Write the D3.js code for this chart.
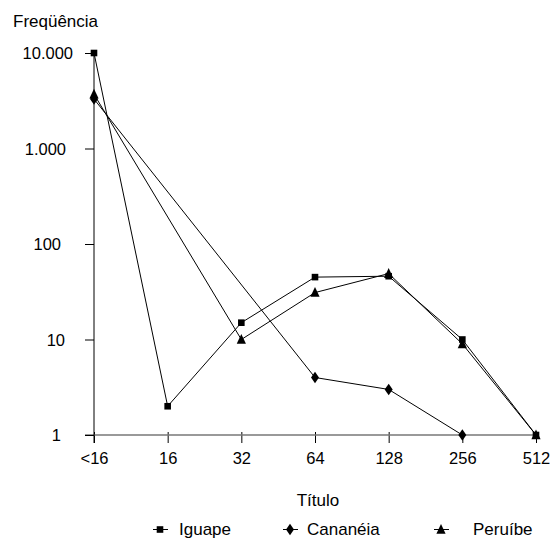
<!DOCTYPE html>
<html><head><meta charset="utf-8">
<script src="https://cdn.jsdelivr.net/npm/d3@7"></script>
<style>body{margin:0;background:#fff}svg{display:block}text{font-family:"Liberation Sans",Arial,sans-serif;fill:#000}</style>
</head><body>
<svg id="c" width="557" height="540"></svg>
<script>
const categories = ["<16","16","32","64","128","256","512"];
const iguape   = [10000, 2, 15, 45, 46, 10, 1];
const cananeia = [3300, null, null, 4, 3, 1, null];
const peruibe  = [3700, null, 10, 31, 49, 9, 1];
const yTicks = [1, 10, 100, 1000, 10000];
const yTickLabels = ["1","10","100","1.000","10.000"];
const seriesNames = ["Iguape","Cananéia","Peruíbe"];

const FONT = "Liberation Sans, Arial, sans-serif";
const svg = d3.select("#c");
const x = d3.scalePoint().domain(categories).range([94, 536]);
const y = d3.scaleLog().domain([1, 10000]).range([435, 53]);

// custom marker shapes
const sq = {draw(c){ c.moveTo(-3.3,-3.3); c.lineTo(3.3,-3.3); c.lineTo(3.3,3.3); c.lineTo(-3.3,3.3); c.closePath(); }};
const dia = {draw(c){ c.moveTo(0,-5.8); c.lineTo(4,0); c.lineTo(0,5.8); c.lineTo(-4,0); c.closePath(); }};
const tri = {draw(c){ c.moveTo(0,-5.5); c.lineTo(4.6,4.3); c.lineTo(-4.6,4.3); c.closePath(); }};
const symbols = [sq, dia, tri];

// x axis
const xAxis = svg.append("g").attr("transform","translate(0,435)")
  .call(d3.axisBottom(x).tickSize(8).tickPadding(9));
xAxis.select(".domain").remove();
xAxis.selectAll(".tick line").attr("stroke","#000").attr("y1",-3);
xAxis.selectAll(".tick text").attr("font-size",16.5).attr("font-family",FONT);
svg.append("line").attr("x1",85).attr("x2",537).attr("y1",435).attr("y2",435).attr("stroke","#777").attr("stroke-width",1.5);

// y axis
const yLabelRight = [61, 65, 61, 66, 73];
const yAxis = svg.append("g").attr("transform","translate(94,0)")
  .call(d3.axisLeft(y).tickValues(yTicks).tickFormat((d,i)=>yTickLabels[i]).tickSize(9));
yAxis.select(".domain").remove();
yAxis.selectAll(".tick line").attr("stroke","#000");
yAxis.selectAll(".tick text").attr("font-size",16.5).attr("font-family",FONT)
  .attr("x",(d,i)=>yLabelRight[i]-94).attr("dy","0.36em");
svg.append("line").attr("x1",94).attr("x2",94).attr("y1",53).attr("y2",443).attr("stroke","#000").attr("stroke-width",1);

svg.append("text").attr("x",13).attr("y",27).attr("font-size",17).text("Freqüência");
svg.append("text").attr("x",318).attr("y",506).attr("text-anchor","middle").attr("font-size",17).text("Título");

const data = [iguape, cananeia, peruibe];

data.forEach((vals, si) => {
  const pts = categories.map((c,i)=>({c, v: vals[i]})).filter(p => p.v != null);
  svg.append("path").datum(pts)
    .attr("fill","none").attr("stroke","#000").attr("stroke-width",1)
    .attr("d", d3.line().x(p=>x(p.c)).y(p=>y(p.v)));
  svg.selectAll(null).data(pts).enter().append("path")
    .attr("transform", p=>`translate(${x(p.c)},${y(p.v)})`)
    .attr("d", d3.symbol().type(symbols[si]))
    .attr("fill","#000");
});

// legend
const legX = [160, 290, 441];
const legTX = [179, 307, 473];
seriesNames.forEach((n, i) => {
  const g = svg.append("g");
  g.append("line").attr("x1",legX[i]-7).attr("x2",legX[i]+8).attr("y1",529.5).attr("y2",529.5).attr("stroke","#000");
  g.append("path").attr("transform",`translate(${legX[i]},529.5)`)
    .attr("d", d3.symbol().type(symbols[i])).attr("fill","#000");
  g.append("text").attr("x",legTX[i]).attr("y",535).attr("font-size",17).text(n);
});
</script>
</body></html>
